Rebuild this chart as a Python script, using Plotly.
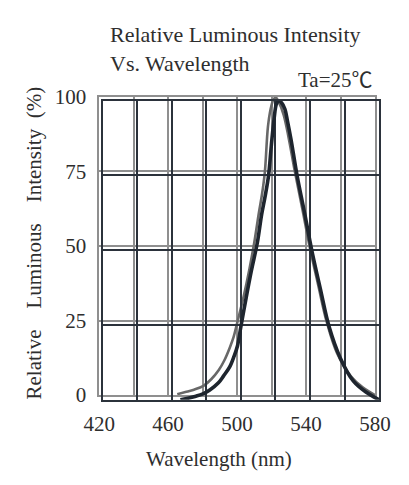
import plotly.graph_objects as go

# curve as printed on the lighter (gray) layer of the scan
wl_gray = [465.3, 470, 475, 480.5, 485, 489.4, 492.5, 495.7, 498, 500.1, 503.7, 507.2,
           509.9, 512.6, 514.5, 516.1, 517.9, 519.5, 521, 522.4, 524, 527, 530, 533.5,
           538, 542, 547, 552, 558, 566, 573, 580]
int_gray = [0.3, 1, 1.8, 3.1, 5.3, 8.4, 11.5, 15.8, 19.5, 24.3, 32.8, 42.4,
            50.9, 61, 67.5, 74.8, 90, 96, 99, 99.8, 98.5, 94, 86, 75,
            62, 50, 37, 24.5, 14, 6.3, 2.5, 0]

# curve as printed on the darker layer
wl_dark = [465, 470, 474, 478, 482, 487, 490, 493.5, 496, 498, 500, 503, 506, 509.5,
           512, 514, 516, 517.6, 519.2, 520.6, 522, 523.5, 525.4, 527, 529, 532.5,
           537, 541, 546, 551, 557.5, 565, 572.5, 580]
int_dark = [0, 0.6, 1.2, 2, 3.3, 5.7, 8, 11, 14.5, 18, 24.5, 34, 43, 52.5,
            62, 68, 75, 85, 94, 99, 100, 99.3, 97.3, 93, 87, 75,
            62, 50, 37, 24.5, 14, 6.3, 2.5, 0]

x_ticks = [420, 440, 460, 480, 500, 520, 540, 560, 580]
x_labels = ['420', '', '460', '', '500', '', '540', '', '580']
y_ticks = [0, 25, 50, 75, 100]

W, H = 409, 485
serif = "Liberation Serif"
txt = "#2e2e2e"
gray_line = "#8f8f8f"
dark_line = "#2b323b"
sp = "\u00a0"


def px_dom(a, b, size, flip=False):
    if flip:
        return [1 - b / size, 1 - a / size]
    return [a / size, b / size]


fig = go.Figure()

fig.add_trace(go.Scatter(x=wl_gray, y=int_gray, mode='lines', line_shape='spline',
                         line=dict(color="#686868", width=2.6), xaxis='x', yaxis='y',
                         hoverinfo='skip'))
fig.add_trace(go.Scatter(x=wl_dark, y=int_dark, mode='lines', line_shape='spline',
                         line=dict(color="#1e252e", width=3.6), xaxis='x2', yaxis='y2',
                         hoverinfo='skip'))

# gray layer: 420->90px, 580->389.5px ; 0->403px, 100->89.3px
# dark layer is the same grid shifted ~4px right and down
fig.update_layout(
    autosize=True,
    margin=dict(l=0, r=0, t=0, b=0),
    paper_bgcolor="white", plot_bgcolor="rgba(0,0,0,0)",
    showlegend=False,
    font=dict(family=serif, size=21, color=txt),
    xaxis=dict(domain=px_dom(90.2, 389.5, W), range=[420, 580],
               tickvals=x_ticks, ticktext=x_labels, ticks="", ticklabelstandoff=9,
               showgrid=True, gridcolor=gray_line, gridwidth=1.5, zeroline=False,
               showline=True, mirror=True, linecolor=gray_line, linewidth=1.5, anchor='y',
               tickfont=dict(family=serif, size=21, color=txt)),
    yaxis=dict(domain=px_dom(89.3, 403, H, flip=True), range=[0, 100],
               tickvals=y_ticks, ticks="", ticklabelstandoff=7,
               showgrid=True, gridcolor=gray_line, gridwidth=1.5, zeroline=False,
               showline=True, mirror=True, linecolor=gray_line, linewidth=1.5, anchor='x',
               tickfont=dict(family=serif, size=21, color=txt)),
    xaxis2=dict(domain=px_dom(94, 394, W), range=[420, 580],
                tickvals=x_ticks, showticklabels=False, ticks="",
                showgrid=True, gridcolor=dark_line, gridwidth=1.8, zeroline=False,
                showline=True, mirror=True, linecolor=dark_line, linewidth=1.8, anchor='y2'),
    yaxis2=dict(domain=px_dom(93.3, 408, H, flip=True), range=[0, 100],
                tickvals=y_ticks, showticklabels=False, ticks="",
                showgrid=True, gridcolor=dark_line, gridwidth=1.8, zeroline=False,
                showline=True, mirror=True, linecolor=dark_line, linewidth=1.8, anchor='x2'),
)

fig.add_annotation(text="Relative Luminous Intensity<br>Vs. Wavelength", xref='paper', yref='paper',
                   x=100 / W, y=1 - 8 / H, xanchor='left', yanchor='top', align='left',
                   showarrow=False, font=dict(family=serif, size=22, color=txt))
fig.add_annotation(text="Ta=25℃", xref='paper', yref='paper',
                   x=390 / W, y=1 - 72 / H, xanchor='right', yanchor='middle',
                   showarrow=False,
                   font=dict(family=serif + ", Noto Sans CJK SC", size=21, color=txt))
fig.add_annotation(text="Wavelength (nm)", xref='paper', yref='paper',
                   x=220 / W, y=1 - 470 / H, xanchor='center', yanchor='middle',
                   showarrow=False, font=dict(family=serif, size=21, color=txt))
fig.add_annotation(text="Relative" + sp * 4 + "Luminous" + sp * 4 + "Intensity" + sp * 2 + "(%)",
                   xref='paper', yref='paper', textangle=-90,
                   x=19 / W, y=1 - 243 / H, xanchor='center', yanchor='middle',
                   showarrow=False, font=dict(family=serif, size=21, color=txt))

# pin the plot div to the page corner so the body margin does not push it out of the window
fig.write_html("out.html", config={"displayModeBar": False},
               default_width="409px",
               default_height="485px; position:absolute; left:0; top:0")
